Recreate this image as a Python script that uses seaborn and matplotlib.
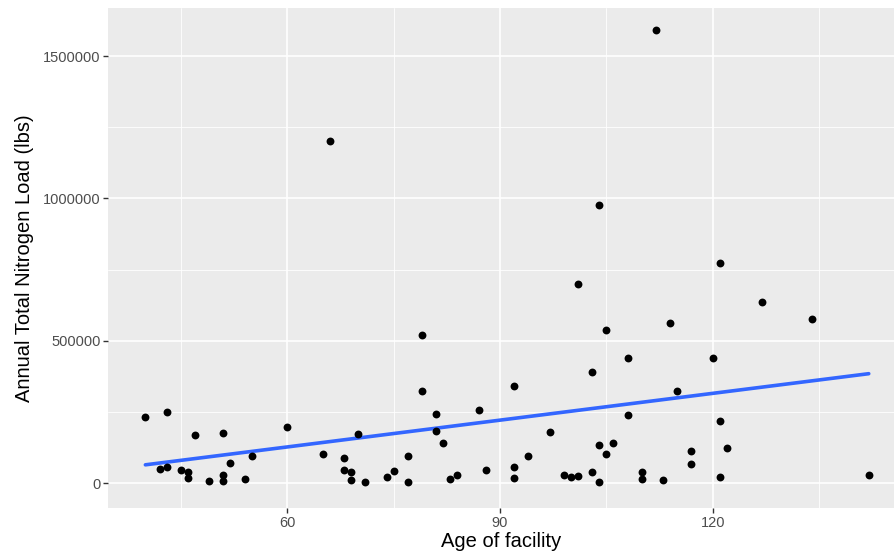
import matplotlib
matplotlib.use("Agg")
import matplotlib.pyplot as plt
import seaborn as sns
import pandas as pd
from matplotlib.ticker import FixedLocator

age = [40, 43, 47, 51, 60, 42, 43, 45, 46, 46, 49, 51, 51, 52, 54, 55,
       79, 79, 81, 87, 81, 82, 70, 65, 68, 68, 69, 69, 71, 74, 75, 77, 77, 83, 84, 88, 66,
       105, 114, 108, 103, 92, 115, 108, 97, 94, 92, 92, 99, 100, 101, 103, 104, 105, 106, 104, 110, 110, 113,
       127, 134, 120, 121, 117, 117, 122, 121, 142, 104, 101, 121, 112]
load = [233000, 250000, 170000, 177000, 197000, 49000, 57000, 46000, 39000, 16000, 8000, 27000, 8000, 69000, 14000, 94000,
        521000, 323000, 241000, 256000, 184000, 142000, 173000, 102000, 89000, 47000, 40000, 11000, 4000, 21000, 42000, 94000, 4000, 15000, 27000, 47000, 1200000,
        536000, 563000, 440000, 391000, 341000, 323000, 239000, 180000, 94000, 56000, 19000, 28000, 22000, 25000, 37000, 133000, 101000, 142000, 2000, 37000, 14000, 9000,
        637000, 575000, 438000, 219000, 111000, 67000, 122000, 22000, 28000, 975000, 700000, 773000, 1590000]

x_ticks = [60, 90, 120]
y_ticks = [0, 500000, 1000000, 1500000]
y_tick_labels = ["0", "500000", "1000000", "1500000"]

df = pd.DataFrame({"age": age, "load": load})

sns.set_theme(style="darkgrid")
plt.rcParams["font.family"] = ["Liberation Sans", "DejaVu Sans"]

fig = plt.figure(figsize=(8.94, 5.55), dpi=100)
ax = fig.add_axes([108 / 894, 47 / 555, 786 / 894, 500 / 555])
ax.set_facecolor("#EBEBEB")

# minor grid
for xm in [45, 75, 105, 135]:
    ax.axvline(xm, color="white", lw=0.6, zorder=0.5)
for ym in [250000, 750000, 1250000]:
    ax.axhline(ym, color="white", lw=0.6, zorder=0.5)

sns.regplot(data=df, x="age", y="load", ax=ax, ci=None,
            scatter_kws=dict(color="black", s=32, linewidths=0, alpha=1, zorder=3),
            line_kws=dict(color="#3366FF", lw=2.6, zorder=2))

ax.set_xlim(34.73, 145.56)
ax.set_ylim(-87800, 1668700)
ax.xaxis.set_major_locator(FixedLocator(x_ticks))
ax.set_yticks(y_ticks)
ax.set_yticklabels(y_tick_labels)
ax.grid(True, which="major", color="white", lw=1.2, zorder=0.6)
ax.set_axisbelow(True)
for s in ax.spines.values():
    s.set_visible(False)
ax.tick_params(axis="both", which="major", length=3.5, width=1, color="#333333",
               labelsize=10.5, labelcolor="#4D4D4D", pad=2)
ax.tick_params(left=True, bottom=True)
ax.set_xlabel("Age of facility", fontsize=14.5, color="black", labelpad=2)
ax.set_ylabel("Annual Total Nitrogen Load (lbs)", fontsize=14.5, color="black", labelpad=6)

fig.savefig("out.png", dpi=100, facecolor="white")
